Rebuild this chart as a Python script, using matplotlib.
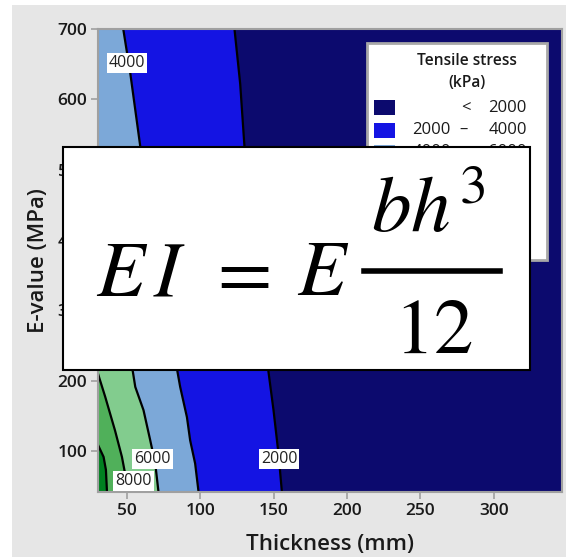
import numpy as np
import matplotlib
matplotlib.use("Agg")
import matplotlib.pyplot as plt
from matplotlib.patches import Rectangle
from matplotlib.lines import Line2D

plt.rcParams["font.family"] = ["Open Sans", "DejaVu Sans"]
plt.rcParams["mathtext.fontset"] = "stix"

# contour boundaries: thickness (mm) at given E-value (MPa)
e_2000 = [42, 96, 158, 212, 533, 622, 700]
h_2000 = [155.6, 153.3, 149.9, 146.5, 130.1, 127.2, 123.3]

e_4000 = [42, 82, 115, 148, 191, 212, 533, 637, 700]
h_4000 = [98.8, 96.5, 93.1, 90.9, 86.3, 84.5, 59.1, 52.3, 47.5]

e_6000 = [42, 82, 115, 158, 191, 212, 400, 480]
h_6000 = [71.5, 69.3, 65.9, 61.3, 55.7, 54.1, 36.0, 28.0]

e_8000 = [42, 91.5, 129, 177, 203, 240]
h_8000 = [51.1, 46.6, 41.9, 35.2, 31.3, 26.0]

e_10000 = [42, 73, 91.5, 108, 125]
h_10000 = [36.4, 35.7, 34.1, 30.4, 27.0]

boundaries = [(e_2000, h_2000), (e_4000, h_4000), (e_6000, h_6000),
              (e_8000, h_8000), (e_10000, h_10000)]

band_colors = ["#0c0a6e", "#1414e3", "#7ca8d8", "#82cc8e", "#50b05a", "#008020"]
band_labels = [("<", "2000"), ("2000", "4000"), ("4000", "6000"),
               ("6000", "8000"), ("8000", "10000"), (">", "10000")]

# contour labels: (text, thickness, E)
line_labels = [("4000", 50, 652), ("6000", 67.6, 89), ("8000", 54.5, 57), ("2000", 153.7, 88)]

W, H = 566, 557
fig = plt.figure(figsize=(W / 100, H / 100), dpi=100, facecolor="white")
fig.patches.append(Rectangle((12 / W, 0), 1, 1 - 5 / H, transform=fig.transFigure,
                             facecolor="#e6e6e6", edgecolor="none", zorder=-10))

ax = fig.add_axes([98.3 / W, 1 - 491.7 / H, 463.7 / W, 462.7 / H])
ax.set_facecolor(band_colors[0])

for (e, h), col in zip(boundaries, band_colors[1:]):
    ax.fill_betweenx(e, 0, h, color=col, linewidth=0)
for e, h in boundaries:
    ax.plot(h, e, color="black", lw=1.6)

for txt, hx, ey in line_labels:
    ax.text(hx, ey, txt, fontsize=11.5, ha="center", va="center", color="#222222",
            bbox=dict(facecolor="white", edgecolor="none", pad=1.5))

ax.set_xlim(30.5, 346.5)
ax.set_ylim(42, 700)
ax.set_xticks([50, 100, 150, 200, 250, 300])
ax.set_yticks([100, 200, 300, 400, 500, 600, 700])
ax.tick_params(direction="out", length=5, width=1.2, color="#a0a0a0",
               labelsize=12.5, labelcolor="#1a1a1a", pad=3)
for lab in ax.get_xticklabels() + ax.get_yticklabels():
    lab.set_fontweight("semibold")
for s in ax.spines.values():
    s.set_color("#a0a0a0")
    s.set_linewidth(1.5)
ax.set_xlabel("Thickness (mm)", fontsize=16, fontweight="semibold", color="#1a1a1a", labelpad=11)
ax.set_ylabel("E-value (MPa)", fontsize=16, fontweight="semibold", color="#1a1a1a", labelpad=6)

# legend
ax.add_patch(Rectangle((0.5795, 0.5008), 0.3882, 0.4689, transform=ax.transAxes,
                       facecolor="white", edgecolor="#a8a8a8", lw=2, zorder=5))
ax.text(0.795, 0.9309, "Tensile stress", transform=ax.transAxes, ha="center", va="center",
        fontsize=11.2, fontweight="semibold", color="#1a1a1a", zorder=6)
ax.text(0.795, 0.8834, "(kPa)", transform=ax.transAxes, ha="center", va="center",
        fontsize=11.2, fontweight="semibold", color="#1a1a1a", zorder=6)
for i, (col, (lo, hi)) in enumerate(zip(band_colors, band_labels)):
    yc = 0.8303 - 0.0486 * i
    ax.add_patch(Rectangle((0.5945, yc - 0.0162), 0.046, 0.0324, transform=ax.transAxes,
                           facecolor=col, edgecolor="none", zorder=6))
    if lo in ("<", ">"):
        ax.text(0.7929, yc, lo, transform=ax.transAxes, ha="center", va="center",
                fontsize=12, color="#1a1a1a", zorder=6)
    else:
        ax.text(0.7600, yc, lo, transform=ax.transAxes, ha="right", va="center",
                fontsize=12, color="#1a1a1a", zorder=6)
        ax.text(0.7865, yc, "–", transform=ax.transAxes, ha="center", va="center",
                fontsize=12, color="#1a1a1a", zorder=6)
    ax.text(0.9245, yc, hi, transform=ax.transAxes, ha="right", va="center",
            fontsize=12, color="#1a1a1a", zorder=6)

# formula overlay
fig.patches.append(Rectangle((63 / W, 1 - 370 / H), 467 / W, 223 / H,
                             transform=fig.transFigure, facecolor="white",
                             edgecolor="black", lw=1.5, zorder=20))
fs = 57
kw = dict(fontsize=fs, color="black", zorder=21, va="baseline")
fig.text(96 / W, 1 - 295 / H, r"$E\,I$", ha="left", **kw)
fig.text(238 / W, 1 - 295 / H, r"$=$", ha="center", **kw)
fig.text(297 / W, 1 - 295 / H, r"$E$", ha="left", **kw)
fig.text(428 / W, 1 - 232 / H, r"$bh^3$", ha="center", **kw)
fig.text(433 / W, 1 - 353 / H, r"$12$", ha="center", **kw)
fig.lines.append(Line2D([364 / W, 500 / W], [1 - 271 / H, 1 - 271 / H],
                        transform=fig.transFigure, color="black", lw=4, zorder=21))

fig.savefig("out.png", dpi=100)
